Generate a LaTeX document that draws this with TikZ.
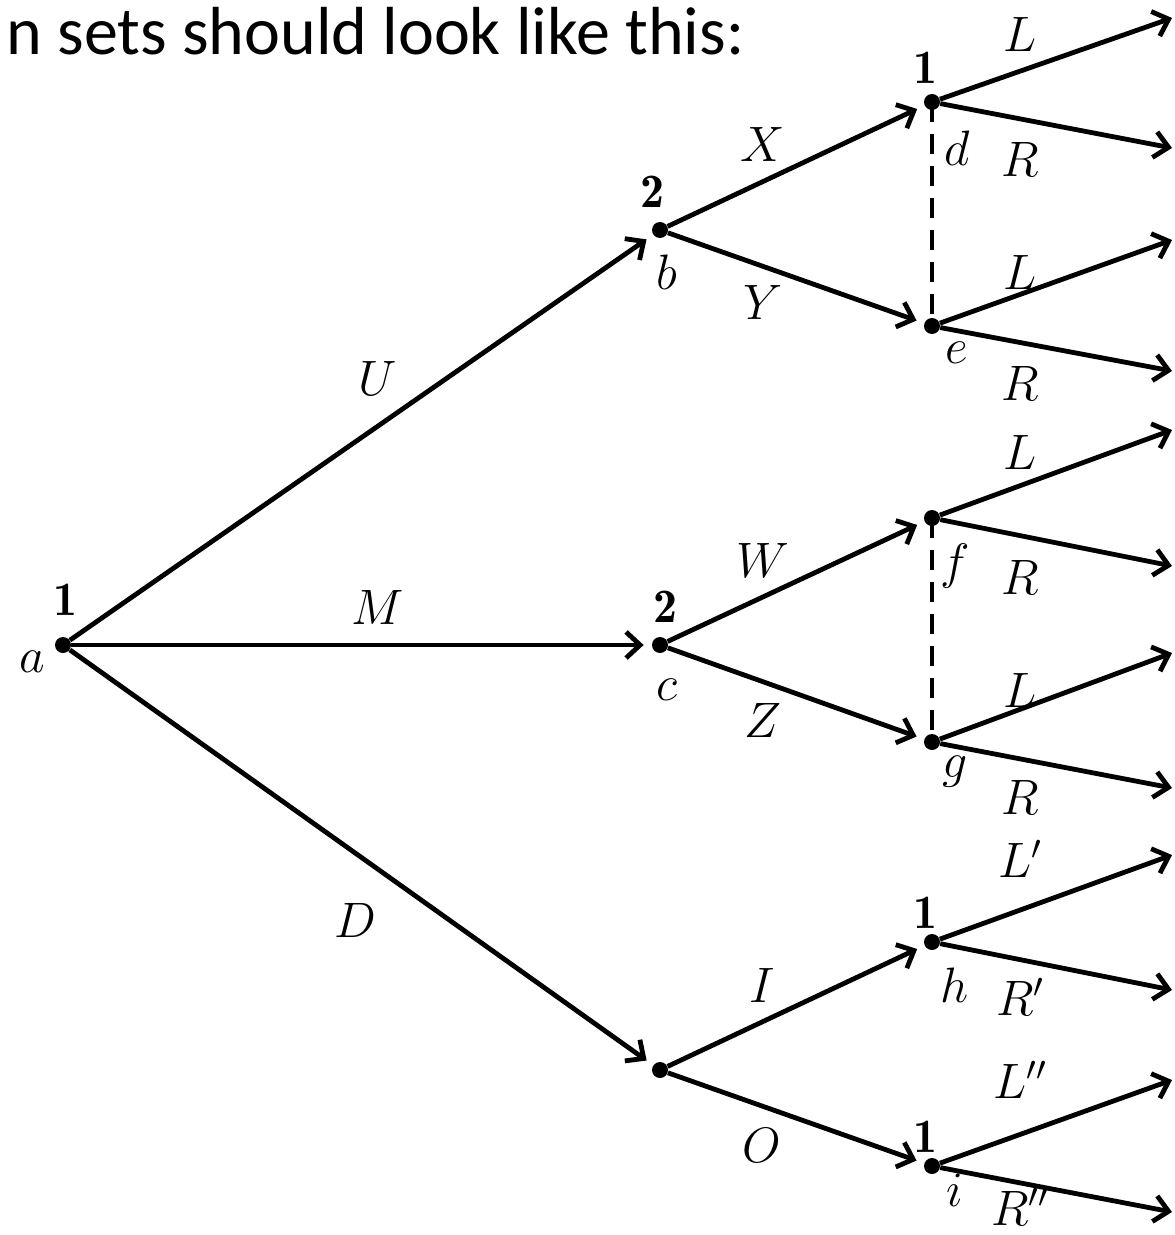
\documentclass[tikz,border=0pt]{standalone}
\usepackage{fontspec}
\newfontfamily\headfont{Carlito}
\usetikzlibrary{arrows.meta}
\tikzset{
  dot/.style={circle, fill, inner sep=0pt, minimum size=8pt},
  move/.style={-{Straight Barb[length=7pt,width=13pt]}, line width=2.4pt, shorten >=4pt},
  lbl/.style={font=\fontsize{24}{28}\selectfont, inner sep=0pt},
  infoset/.style={line width=2.4pt, dash pattern=on 10pt off 6pt},
}
\begin{document}
\begin{tikzpicture}[x=0.5pt, y=-0.5pt]
    \useasboundingbox (0,0) rectangle (1174,1235);
    \node[anchor=base west, inner sep=0pt, font=\headfont\fontsize{34}{40}\selectfont] (head) at (6,55) {n sets should look like this:};
    % decision nodes
    \node[dot] (a) at (63,645) {};
    \node[dot] (b) at (660,230) {}; \node[dot] (c) at (660,645) {}; \node[dot] (n) at (660,1070) {};
    \node[dot] (d) at (932,102) {}; \node[dot] (e) at (932,326) {};
    \node[dot] (f) at (932,518) {}; \node[dot] (g) at (932,742) {};
    \node[dot] (h) at (932,942) {}; \node[dot] (i) at (932,1166) {};
    % free ends of the last moves
    \coordinate (dL) at (1172,18);   \coordinate (dR) at (1172,148);
    \coordinate (eL) at (1172,240);  \coordinate (eR) at (1172,371);
    \coordinate (fL) at (1172,430);  \coordinate (fR) at (1172,566);
    \coordinate (gL) at (1172,653);  \coordinate (gR) at (1172,788);
    \coordinate (hL) at (1172,855);  \coordinate (hR) at (1172,990);
    \coordinate (iL) at (1172,1080); \coordinate (iR) at (1172,1212);
    % moves
    \draw[move] (a) -- (b); \draw[move] (a) -- (c); \draw[move] (a) -- (n);
    \draw[move] (b) -- (d); \draw[move] (b) -- (e);
    \draw[move] (c) -- (f); \draw[move] (c) -- (g);
    \draw[move] (n) -- (h); \draw[move] (n) -- (i);
    \draw[move, shorten >=0pt] (d) -- (dL); \draw[move, shorten >=0pt] (d) -- (dR);
    \draw[move, shorten >=0pt] (e) -- (eL); \draw[move, shorten >=0pt] (e) -- (eR);
    \draw[move, shorten >=0pt] (f) -- (fL); \draw[move, shorten >=0pt] (f) -- (fR);
    \draw[move, shorten >=0pt] (g) -- (gL); \draw[move, shorten >=0pt] (g) -- (gR);
    \draw[move, shorten >=0pt] (h) -- (hL); \draw[move, shorten >=0pt] (h) -- (hR);
    \draw[move, shorten >=0pt] (i) -- (iL); \draw[move, shorten >=0pt] (i) -- (iR);
    % information sets
    \draw[infoset] (d.center) -- (e.center);
    \draw[infoset] (f.center) -- (g.center);
    % players and node names
    \node[lbl] (pa) at (65,600) {$\mathbf{1}$};  \node[lbl] (ta) at (32,662) {$a$};
    \node[lbl] (pb) at (652,192) {$\mathbf{2}$}; \node[lbl] (tb) at (667,272) {$b$};
    \node[lbl] (pc) at (665,607) {$\mathbf{2}$}; \node[lbl] (tc) at (667,690) {$c$};
    \node[lbl] (pd) at (925,68) {$\mathbf{1}$};  \node[lbl] (td) at (957,148) {$d$};
    \node[lbl] (te) at (957,353) {$e$};
    \node[lbl] (tf) at (955,566) {$f$};
    \node[lbl] (tg) at (955,772) {$g$};
    \node[lbl] (ph) at (925,913) {$\mathbf{1}$}; \node[lbl] (th) at (955,985) {$h$};
    \node[lbl] (pi) at (925,1137) {$\mathbf{1}$}; \node[lbl] (ti) at (955,1190) {$i$};
    % move labels
    \node[lbl] (mU) at (378,378) {$U$}; \node[lbl] (mM) at (378,607) {$M$}; \node[lbl] (mD) at (355,920) {$D$};
    \node[lbl] (mX) at (763,145) {$X$}; \node[lbl] (mY) at (763,302) {$Y$};
    \node[lbl] (mW) at (763,560) {$W$}; \node[lbl] (mZ) at (763,720) {$Z$};
    \node[lbl] (mI) at (762,985) {$I$}; \node[lbl] (mO) at (762,1145) {$O$};
    \node[lbl] (dl) at (1020,35) {$L$};  \node[lbl] (dr) at (1020,160) {$R$};
    \node[lbl] (el) at (1020,272) {$L$}; \node[lbl] (er) at (1020,383) {$R$};
    \node[lbl] (fl) at (1020,452) {$L$}; \node[lbl] (fr) at (1020,577) {$R$};
    \node[lbl] (gl) at (1020,690) {$L$}; \node[lbl] (gr) at (1020,797) {$R$};
    \node[lbl] (hl) at (1020,859) {$L'$}; \node[lbl] (hr) at (1020,997) {$R'$};
    \node[lbl] (il) at (1020,1080) {$L''$}; \node[lbl] (ir) at (1020,1207) {$R''$};
\end{tikzpicture}
\end{document}
